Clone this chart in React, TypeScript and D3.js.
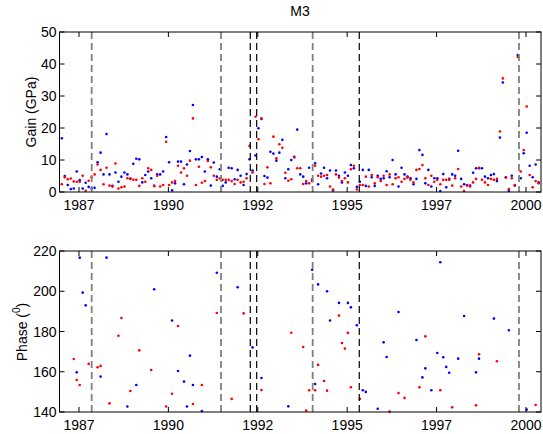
import React from 'react';
import * as d3 from 'd3';

// ---- data (monthly, starting Jan 1987) ----
const startYear = 1987.02;

const gainBlue = [
  16.8, 5.0, 2.2, 0.9, 1.1, 6.4, 3.7, 1.1, 2.9, 1.6,
  1.1, 1.3, 9.3, 12.3, 5.5, 18.1, 5.5, 1.9, 6.1, 3.2,
  4.8, 6.1, 5.5, 4.2, 8.8, 10.4, 10.2, 3.0, 5.3, 6.4,
  4.3, 1.9, 5.5, 5.5, 6.4, 17.2, 9.3, 0.5, 2.7, 9.5,
  9.5, 2.4, 8.6, 12.8, 27.2, 10.2, 10.2, 10.9, 6.4, 10.2,
  2.0, 9.2, 4.8, 7.1, 1.9, 3.0, 7.6, 7.4, 4.0, 6.9,
  5.1, 2.2, 5.6, 10.2, 6.7, 11.4, 19.9, 22.8, 5.0, 4.5,
  12.6, 12.0, 9.8, 12.3, 16.3, 4.3, 7.1, 10.0, 11.0, 19.5,
  5.5, 4.8, 2.7, 7.6, 3.4, 9.0, 2.4, 5.8, 7.6, 4.3,
  6.7, 0.5, 6.7, 5.1, 3.0, 6.1, 5.1, 8.4, 7.4, 1.6,
  3.2, 6.9, 1.9, 6.9, 4.6, 1.9, 5.1, 4.1, 4.3, 6.5,
  4.6, 10.0, 5.5, 1.7, 7.6, 5.5, 4.8, 4.3, 2.4, 4.1,
  13.1, 11.6, 2.7, 6.9, 1.7, 4.3, 4.3, 0.3, 5.6, 1.5,
  4.1, 5.5, 5.1, 12.9, 4.1, 2.4, 2.2, 2.0, 6.0, 7.4,
  7.4, 7.4, 4.8, 4.3, 5.3, 5.6, 3.4, 17.0, 34.2, 4.6,
  0.3, 5.1, 2.0, 42.8, 4.3, 12.1, 18.5, 8.2, 4.6, 8.6,
  3.0,
];

const gainRed = [
  2.4, 4.6, 4.0, 4.2, 3.3, 3.2, 3.2, 5.1, 0.4, 3.5,
  4.6, 5.5, 8.6, 6.9, 2.4, 7.6, 2.0, 1.7, 8.9, 1.1,
  1.5, 1.7, 4.3, 4.1, 3.8, 3.8, 1.9, 4.3, 3.2, 7.4,
  6.9, 1.9, 5.1, 1.7, 2.2, 15.7, 2.2, 3.0, 3.4, 8.2,
  6.1, 7.4, 5.1, 9.8, 23.0, 2.2, 7.9, 2.9, 3.4, 9.7,
  7.7, 5.1, 3.8, 4.3, 3.8, 3.8, 3.8, 3.4, 2.5, 3.8,
  3.0, 3.2, 4.3, 14.4, 6.1, 23.5, 16.5, 23.0, 2.5, 7.7,
  2.7, 17.3, 10.5, 14.9, 13.8, 6.0, 3.5, 4.0, 10.8, 7.4,
  7.4, 2.5, 3.4, 2.7, 4.0, 8.2, 5.1, 4.8, 5.1, 5.3,
  1.7, 0.8, 5.5, 4.5, 3.4, 4.3, 3.0, 7.1, 8.2, 0.8,
  2.2, 2.2, 4.8, 1.7, 5.3, 2.7, 4.6, 3.4, 5.1, 2.2,
  5.5, 2.4, 4.3, 4.6, 3.2, 4.1, 4.5, 3.8, 3.0, 6.9,
  7.2, 8.4, 4.3, 2.2, 5.1, 3.2, 3.8, 2.4, 3.8, 3.8,
  3.8, 2.0, 4.3, 7.2, 1.7, 0.3, 2.0, 1.7, 3.0, 4.1,
  7.6, 3.8, 3.0, 2.2, 4.1, 3.8, 4.1, 18.9, 35.5, 4.5,
  0.9, 4.3, 2.2, 42.2, 6.4, 13.1, 26.7, 5.3, 1.5, 3.4,
  2.7,
];

// phase values visible inside 140..220 (month index, degrees)
const phaseBlueMonth = [5, 6, 7, 8, 13, 15, 22, 25, 31, 37, 39, 41, 42, 43, 44, 47, 52, 59, 64, 67, 76, 84, 85, 86, 89, 90, 93, 96, 97, 99, 101, 102, 106, 108, 109, 113, 119, 121, 122, 124, 126, 127, 128, 129, 130, 133, 135, 139, 140, 145, 150, 156];
const phaseBlueValue = [159.7, 216.7, 199.3, 193, 157.6, 216.7, 142.7, 153.4, 201, 185.5, 160.4, 155.1, 142.7, 168, 153.4, 140.5, 209.2, 202, 172.1, 156.9, 142.8, 210.7, 153.9, 203.4, 200, 185.5, 194.2, 194.2, 192, 183.1, 150.8, 150, 141.6, 174.6, 167.3, 189.7, 175.8, 157.2, 161.7, 150.8, 169.3, 214.4, 167.2, 162.4, 159.5, 166.5, 187.7, 159.7, 166.5, 186.4, 180.6, 141.2];

const phaseRedMonth = [4, 5, 6, 9, 12, 13, 16, 19, 20, 23, 26, 30, 35, 37, 39, 44, 47, 52, 57, 61, 67, 77, 81, 82, 83, 85, 86, 88, 89, 93, 94, 95, 96, 97, 100, 110, 113, 115, 120, 122, 127, 131, 139, 140, 146, 159];
const phaseRedValue = [166.3, 155.9, 153.4, 163.9, 162.2, 162.9, 144.3, 177.9, 186.7, 150.4, 170.6, 160.9, 142.7, 149.1, 182.7, 144, 153.4, 189.2, 146.5, 189, 150.9, 179.4, 172.3, 140.7, 150.8, 150.8, 163.4, 155.4, 150.6, 187.9, 174.3, 171.5, 179.3, 152.3, 146.5, 140.2, 149.4, 147, 152.3, 177.6, 150.8, 142.3, 143.3, 168.7, 165.2, 143.5];

const xTickValues = [1987.5, 1990, 1992.5, 1995, 1997.5, 2000];
const xTickLabels = ['1987', '1990', '1992', '1995', '1997', '2000'];
const gainTicks = [0, 10, 20, 30, 40, 50];
const phaseTicks = [140, 160, 180, 200, 220];

const grayEvents = [1987.855, 1991.471, 1994.035, 1999.804];
const blackEvents = [1992.29, 1992.469, 1995.338];

const FONT = '"Liberation Sans", Arial, Helvetica, sans-serif';
const monthYear = (i: number) => startYear + i / 12;

type PanelProps = {
  x: d3.ScaleLinear<number, number>;
  y: d3.ScaleLinear<number, number>;
  yTicks: number[];
  blue: [number, number][];
  red: [number, number][];
  id: string;
};

function Panel({ x, y, yTicks, blue, red, id }: PanelProps) {
  const [x0, x1] = x.range();
  const [yb, yt] = y.range();
  const tl = 5;
  return (
    <g>
      <defs>
        <clipPath id={id}>
          <rect x={x0} y={yt - 2} width={x1 - x0} height={yb - yt + 4} />
        </clipPath>
      </defs>
      <g clipPath={`url(#${id})`}>
        {blue.map(([xi, v], k) => (
          <circle key={'b' + k} cx={x(monthYear(xi))} cy={y(v)} r={1.3} fill="#0000ff" />
        ))}
        {red.map(([xi, v], k) => (
          <circle key={'r' + k} cx={x(monthYear(xi))} cy={y(v)} r={1.3} fill="#ff0000" />
        ))}
      </g>
      {grayEvents.map((e, k) => (
        <line key={'g' + k} x1={x(e)} x2={x(e)} y1={yt} y2={yb} stroke="#808080" strokeWidth={1.8} strokeDasharray="7,4" />
      ))}
      {blackEvents.map((e, k) => (
        <line key={'k' + k} x1={x(e)} x2={x(e)} y1={yt} y2={yb} stroke="#000" strokeWidth={1.2} strokeDasharray="7,4" />
      ))}
      <rect x={x0} y={yt} width={x1 - x0} height={yb - yt} fill="none" stroke="#000" strokeWidth={1} />
      {xTickValues.map((t, k) => (
        <g key={'xt' + k}>
          <line x1={x(t)} x2={x(t)} y1={yb} y2={yb - tl} stroke="#000" />
          <line x1={x(t)} x2={x(t)} y1={yt} y2={yt + tl} stroke="#000" />
          <text x={x(t)} y={yb + 13} textAnchor="middle" dominantBaseline="central" fontSize={14} fontFamily={FONT}>
            {xTickLabels[k]}
          </text>
        </g>
      ))}
      {yTicks.map((t, k) => (
        <g key={'yt' + k}>
          <line x1={x0} x2={x0 + tl} y1={y(t)} y2={y(t)} stroke="#000" />
          <line x1={x1} x2={x1 - tl} y1={y(t)} y2={y(t)} stroke="#000" />
          <text x={x0 - 3} y={y(t)} textAnchor="end" dominantBaseline="central" fontSize={14} fontFamily={FONT}>
            {t}
          </text>
        </g>
      ))}
    </g>
  );
}

export default function App() {
  const x = d3.scaleLinear().domain([1986.955, 2000.42]).range([59.5, 541]);
  const yGain = d3.scaleLinear().domain([0, 50]).range([192, 32]);
  const yPhase = d3.scaleLinear().domain([140, 220]).range([412, 251]);

  const gB: [number, number][] = gainBlue.map((v, i) => [i, v]);
  const gR: [number, number][] = gainRed.map((v, i) => [i, v]);
  const pB: [number, number][] = phaseBlueMonth.map((m, i) => [m, phaseBlueValue[i]]);
  const pR: [number, number][] = phaseRedMonth.map((m, i) => [m, phaseRedValue[i]]);

  return (
    <svg width={543} height={434} style={{ position: 'absolute', left: 0, top: 0, background: '#fff' }}>
      <rect width={543} height={434} fill="#fff" />
      <text x={300} y={11} textAnchor="middle" dominantBaseline="central" fontSize={14} fontFamily={FONT}>M3</text>
      <Panel x={x} y={yGain} yTicks={gainTicks} blue={gB} red={gR} id="clipGain" />
      <Panel x={x} y={yPhase} yTicks={phaseTicks} blue={pB} red={pR} id="clipPhase" />
      <text transform="translate(31,112) rotate(-90)" textAnchor="middle" dominantBaseline="central" fontSize={14} fontFamily={FONT}>
        Gain (GPa)
      </text>
      <text transform="translate(22,332) rotate(-90)" textAnchor="middle" dominantBaseline="central" fontSize={14} fontFamily={FONT}>
        Phase (<tspan baselineShift="super" fontSize={10}>0</tspan>)
      </text>
    </svg>
  );
}
